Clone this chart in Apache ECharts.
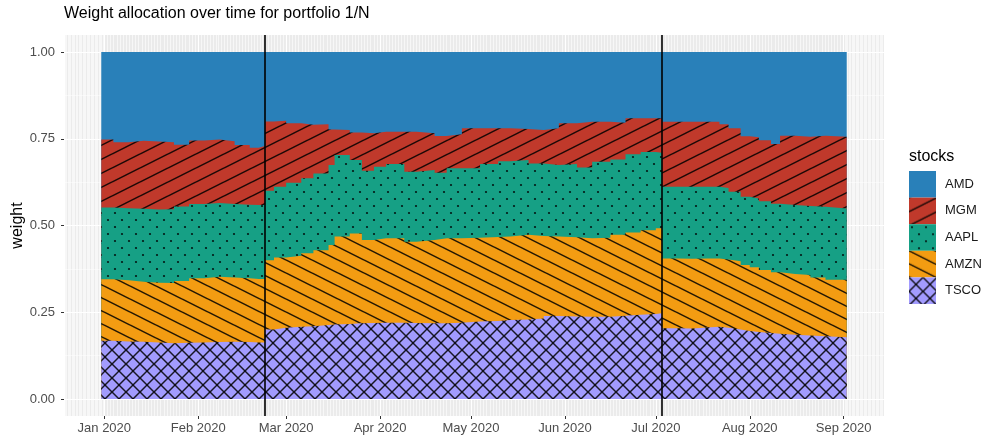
<!DOCTYPE html>
<html><head><meta charset="utf-8">
<script src="https://cdn.jsdelivr.net/npm/echarts@6/dist/echarts.min.js"></script>
<style>html,body{margin:0;padding:0;background:#fff}#c{width:985px;height:437px}</style>
</head><body><div id="c"></div>
<script>
// ---- data (weights per stock) ----
const dates = [
 '2019-12-31','2020-01-04','2020-01-09','2020-01-14','2020-01-19','2020-01-24','2020-01-29','2020-02-03','2020-02-08','2020-02-13','2020-02-18','2020-02-21',
 '2020-02-23','2020-02-26','2020-03-01','2020-03-06','2020-03-10','2020-03-15','2020-03-17','2020-03-22','2020-03-26','2020-03-30','2020-04-03','2020-04-09','2020-04-13','2020-04-19','2020-04-23','2020-04-28','2020-05-04','2020-05-10','2020-05-14','2020-05-20','2020-05-25','2020-05-30','2020-06-05','2020-06-10','2020-06-16','2020-06-21','2020-06-26','2020-07-01',
 '2020-07-03','2020-07-08','2020-07-13','2020-07-18','2020-07-22','2020-07-25','2020-07-29','2020-08-01','2020-08-04','2020-08-08','2020-08-11','2020-08-16','2020-08-21','2020-08-26','2020-09-02'
];
const TSCO = [.168,.166,.165,.163,.161,.162,.163,.164,.165,.164,.163,.163,
 .200,.205,.208,.210,.213,.215,.216,.218,.219,.220,.220,.219,.218,.218,.220,.223,.225,.228,.229,.232,.239,.238,.237,.237,.240,.243,.245,.247,
 .204,.203,.206,.208,.205,.200,.196,.193,.190,.188,.185,.183,.181,.178,.170];
const AMZN = [.177,.176,.173,.172,.173,.178,.185,.188,.185,.184,.183,.183,
 .200,.203,.205,.210,.216,.229,.252,.259,.239,.243,.243,.234,.240,.245,.243,.242,.242,.240,.244,.238,.229,.228,.226,.228,.233,.237,.241,.245,
 .201,.201,.199,.197,.197,.197,.190,.187,.182,.177,.175,.174,.169,.166,.168];
const AAPL = [.207,.208,.210,.211,.213,.215,.214,.213,.212,.212,.213,.213,
 .200,.204,.210,.216,.221,.230,.235,.212,.200,.206,.214,.202,.202,.189,.202,.200,.210,.217,.216,.209,.206,.211,.204,.219,.217,.225,.226,.218,
 .207,.208,.207,.207,.206,.200,.197,.198,.198,.198,.199,.199,.204,.205,.207];
const MGM = [.196,.190,.196,.196,.193,.178,.183,.183,.181,.172,.165,.170,
 .200,.190,.172,.154,.142,.103,.072,.079,.108,.101,.093,.115,.106,.106,.098,.115,.103,.095,.089,.096,.106,.118,.132,.115,.106,.104,.097,.099,
 .187,.187,.187,.187,.184,.183,.174,.176,.176,.172,.200,.200,.205,.207,.211];
const AMD = [.252,.260,.256,.258,.260,.267,.255,.252,.257,.268,.276,.271,
 .200,.198,.205,.210,.208,.223,.225,.232,.234,.230,.230,.230,.234,.242,.237,.220,.220,.220,.222,.225,.220,.205,.201,.201,.204,.191,.191,.191,
 .201,.201,.201,.201,.208,.220,.243,.246,.254,.265,.241,.244,.241,.244,.244];
const rebalanceDates = ['2020-02-23','2020-07-03'];
const legendOrder = ['AMD','MGM','AAPL','AMZN','TSCO'];
const yTicks = [0, 0.25, 0.5, 0.75, 1];
const monthNames = ['Jan','Feb','Mar','Apr','May','Jun','Jul','Aug','Sep','Oct','Nov','Dec'];

// ---- helpers ----
function ts(s){const p=s.split('-').map(Number);return new Date(p[0],p[1]-1,p[2]).getTime();}
function tile(w,h,bg,draw){const c=document.createElement('canvas');c.width=w;c.height=h;const g=c.getContext('2d');g.fillStyle=bg;g.fillRect(0,0,w,h);draw(g,w,h);return {image:c,repeat:'repeat'};}
const ink='rgba(0,0,0,0.85)';
const pat = {
 AMD: '#2980B9',
 MGM: tile(28,14,'#C0392B',(g)=>{g.strokeStyle=ink;g.lineWidth=1.5;for(const c of [0,14,28]){g.beginPath();g.moveTo(0,c);g.lineTo(28,c-14);g.stroke();}}),
 AAPL: tile(14,14,'#16A085',(g)=>{g.fillStyle='rgba(0,0,0,0.85)';for(const p of [[3,3],[10,10]]){g.beginPath();g.arc(p[0],p[1],1.1,0,Math.PI*2);g.fill();}}),
 AMZN: tile(26,13,'#F39C12',(g)=>{g.strokeStyle=ink;g.lineWidth=1.5;for(const c of [-13,0,13]){g.beginPath();g.moveTo(0,c);g.lineTo(26,c+13);g.stroke();}}),
 TSCO: tile(14,14,'#A29BFE',(g)=>{g.strokeStyle=ink;g.lineWidth=1.5;for(const dx of [-14,0,14]){g.beginPath();g.moveTo(dx,0);g.lineTo(dx+14,14);g.stroke();g.beginPath();g.moveTo(dx,14);g.lineTo(dx+14,0);g.stroke();}})
};
const flat = {AMD:'#2980B9',MGM:'#C0392B',AAPL:'#16A085',AMZN:'#F39C12',TSCO:'#A29BFE'};
const values = {TSCO,AMZN,AAPL,MGM,AMD};

const t0=ts(dates[0]), t1=ts(dates[dates.length-1]), span=t1-t0;
const xmin=t0-0.05*span, xmax=t1+0.05*span;
const FONT='"Liberation Sans", Arial, Helvetica, sans-serif';

// Stack bottom->top; each area is drawn from 0 up to its stacked top, upper stocks drawn first,
// so lower stocks cover them with no seams between layers.
const stackOrder=['TSCO','AMZN','AAPL','MGM','AMD'];
const tops = {};
let running = dates.map(()=>0);
for (const n of stackOrder){ running = running.map((v,i)=>v+values[n][i]); tops[n]=running.slice(); }
const series = stackOrder.slice().reverse().map(n=>({
  name:n, type:'line', xAxisIndex:1, yAxisIndex:1, step:'end',
  showSymbol:false, symbol:'none', lineStyle:{width:0}, itemStyle:{color:flat[n]},
  areaStyle:{color:pat[n], opacity:1, origin:'start'},
  data: dates.map((d,i)=>[ts(d), tops[n][i]])
}));
series.push({type:'line', xAxisIndex:0, yAxisIndex:0, data:[], z:10, silent:true,
  markLine:{symbol:'none', silent:true, label:{show:false}, animation:false,
    lineStyle:{color:'#000', width:1.6, type:'solid'},
    data: rebalanceDates.map(d=>({xAxis: ts(d)}))}});

function timeAxis(gridIndex, visible){
  return {type:'time', gridIndex, min:xmin, max:xmax, minInterval:28*864e5, maxInterval:31*864e5,
     axisLine:{show:false}, axisTick:{show:visible, length:3, lineStyle:{color:'#333'}},
     axisLabel:{show:visible, fontSize:13, color:'#4D4D4D', margin:6, fontFamily:FONT,
       formatter:(v)=>{const d=new Date(v);return monthNames[d.getMonth()]+' '+d.getFullYear();}},
     splitLine:{show:visible, lineStyle:{color:'#fff', width:1.1}},
     minorTick:{show:false, splitNumber:30},
     minorSplitLine:{show:visible, lineStyle:{color:'rgba(255,255,255,0.6)', width:1}}};
}

const chart = echarts.init(document.getElementById('c'), null, {renderer:'canvas'});
chart.setOption({
  animation:false,
  textStyle:{fontFamily:FONT},
  title:{text:'Weight allocation over time for portfolio 1/N', left:64, top:6, padding:0,
    textStyle:{fontSize:16, fontWeight:'normal', color:'#000', fontFamily:FONT}},
  graphic:[{type:'text', left:909, top:149, style:{text:'stocks', fontSize:16, fill:'#000', fontFamily:FONT}}],
  legend:{orient:'vertical', left:909, top:171, itemWidth:27, itemHeight:26.6, itemGap:0, icon:'rect', padding:0,
    textStyle:{fontSize:13, color:'#1a1a1a', fontFamily:FONT, padding:[0,0,0,4]},
    data: legendOrder.map(n=>({name:n, itemStyle:{color:pat[n], borderWidth:0}}))},
  grid:[
    {left:64, right:101, top:35, bottom:21, show:true, backgroundColor:'#EBEBEB', borderWidth:0, containLabel:false, outerBoundsMode:'none'},
    {left:64, right:101, top:52, bottom:38, show:false, containLabel:false, outerBoundsMode:'none'}
  ],
  xAxis:[ timeAxis(0, true), timeAxis(1, false) ],
  yAxis:[
    {type:'value', gridIndex:0, min:0, max:1, show:false},
    {type:'value', gridIndex:1, min:yTicks[0], max:yTicks[yTicks.length-1], interval:0.25,
     name:'weight', nameLocation:'middle', nameGap:38, nameMoveOverlap:false,
     nameTextStyle:{fontSize:16, color:'#000', fontFamily:FONT},
     axisLine:{show:false}, axisTick:{show:true, length:3, lineStyle:{color:'#333'}},
     axisLabel:{fontSize:13, color:'#4D4D4D', margin:9, fontFamily:FONT, formatter:(v)=>v.toFixed(2)},
     splitLine:{show:true, lineStyle:{color:'#fff', width:1.1}},
     minorTick:{show:false, splitNumber:2},
     minorSplitLine:{show:true, lineStyle:{color:'#fff', width:0.5}}}
  ],
  series: series
});
</script></body></html>
